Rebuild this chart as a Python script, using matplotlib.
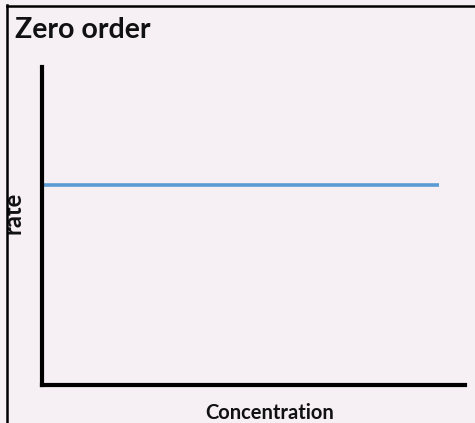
import matplotlib
matplotlib.use("Agg")
import matplotlib.pyplot as plt
from matplotlib.patches import Rectangle
from matplotlib.lines import Line2D

# Data
concentration = [0.0, 9.39]
rate = [6.29, 6.29]
title_text = "Zero order"
xlabel_text = "Concentration"
ylabel_text = "rate"

W, H = 475, 423
BG = "#f6eff4"
fig = plt.figure(figsize=(W / 100, H / 100), dpi=100, facecolor=BG)

def px(x, y):
    return x / W, 1 - y / H

left, right, top, bottom = 42, 465, 67, 385
ax = fig.add_axes([left / W, (H - bottom) / H, (right - left) / W, (bottom - top) / H])
ax.set_facecolor("none")
ax.set_xlim(0, 10)
ax.set_ylim(0, 10)
for s in ["top", "right"]:
    ax.spines[s].set_visible(False)
for s in ["left", "bottom"]:
    ax.spines[s].set_linewidth(3.0)
    ax.spines[s].set_color("black")
    ax.spines[s].set_capstyle("projecting")
ax.set_xticks([])
ax.set_yticks([])
ax.plot(concentration, rate, color="#5b9bd5", linewidth=2.6, solid_capstyle="butt")

font = ["Lato", "DejaVu Sans"]
fig.text(*px(15, 38), title_text, fontsize=20.5, fontweight="bold", family=font,
         ha="left", va="baseline", color="#111111")
fig.text(*px(269.5, 418.5), xlabel_text, fontsize=14.5, fontweight="bold", family=font,
         ha="center", va="baseline", color="#111111")
fig.text(*px(20, 212.5), ylabel_text, fontsize=17, fontweight="bold", family=font, rotation=90,
         rotation_mode="anchor", ha="center", va="baseline", color="#111111")

# border (clips y label)
fig.patches.append(Rectangle((0, 0), 6 / W, 1, transform=fig.transFigure, color=BG, zorder=10))
fig.add_artist(Line2D([7 / W, 7 / W], [0, 1 - 5 / H], transform=fig.transFigure,
                      color="black", linewidth=1.8, zorder=11))
fig.add_artist(Line2D([7 / W, 1], [1 - 6 / H, 1 - 6 / H], transform=fig.transFigure,
                      color="black", linewidth=1.8, zorder=11))
fig.patches.append(Rectangle((0, 1 - 5 / H), 1, 5 / H, transform=fig.transFigure, color=BG, zorder=10))

fig.savefig("out.png", dpi=100, facecolor=BG)
